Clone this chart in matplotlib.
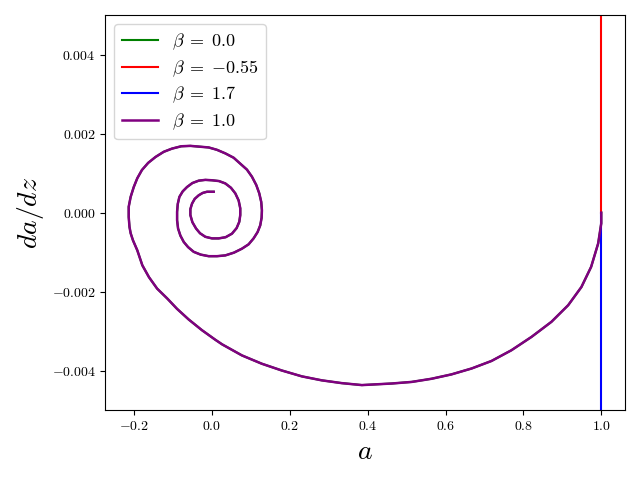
import matplotlib
matplotlib.use("Agg")
import matplotlib.pyplot as plt

plt.rcParams['mathtext.fontset'] = 'cm'
plt.rcParams['font.family'] = 'serif'
plt.rcParams['font.serif'] = ['cmr10', 'DejaVu Serif']
plt.rcParams['axes.formatter.use_mathtext'] = True

# trajectory, from a=1 along the big arc into the spiral centre
a_vals = [1.0, 1.0, 0.992, 0.974, 0.949, 0.915, 0.872, 0.821, 0.769, 0.718,
          0.667, 0.615, 0.564, 0.513, 0.462, 0.385, 0.333, 0.282, 0.231, 0.179,
          0.128, 0.077, 0.026, 0.008, -0.026, -0.060, -0.090, -0.115, -0.141, -0.162,
          -0.179, -0.192, -0.203, -0.209, -0.212, -0.214, -0.214, -0.209, -0.201, -0.192,
          -0.180, -0.164, -0.145, -0.124, -0.103, -0.079,
          # outer loop
          -0.0556, -0.0085, 0.0128, 0.0342, 0.0556, 0.0726, 0.0897, 0.1026, 0.1137, 0.1214,
          0.1265, 0.1282, 0.1274, 0.1239, 0.1171, 0.1068, 0.0940, 0.0769, 0.0564, 0.0342,
          0.0128, -0.0085, -0.0291, -0.0470, -0.0615, -0.0726, -0.0812, -0.0872, -0.0897, -0.0897,
          -0.0880, -0.0838, -0.0752, -0.0641, -0.0504, -0.0342, -0.0171, 0.0, 0.0179, 0.0342,
          # inner loop
          0.0487, 0.0598, 0.0684, 0.0726, 0.0726, 0.0701, 0.0632, 0.0513, 0.0350, 0.0171,
          0.0, -0.0171, -0.0308, -0.0410, -0.0504, -0.0556, -0.0556, -0.0513, -0.0444, -0.0342,
          -0.0239, -0.0128, 0.0043]
dadz_vals = [0.0, -0.00027, -0.00078, -0.00137, -0.00188, -0.00234, -0.00276, -0.00314, -0.00348, -0.00375,
             -0.00394, -0.00409, -0.00420, -0.00428, -0.00432, -0.00436, -0.00431, -0.00424, -0.00414, -0.00399,
             -0.00382, -0.00361, -0.00333, -0.00321, -0.00297, -0.00270, -0.00243, -0.00217, -0.00192, -0.00163,
             -0.00133, -0.00095, -0.00070, -0.00052, -0.00036, -0.00011, 0.00015, 0.00040, 0.00065, 0.00087,
             0.00108, 0.00126, 0.00141, 0.00154, 0.00162, 0.00168,
             # outer loop
             0.00169, 0.00165, 0.00159, 0.00150, 0.00139, 0.00124, 0.00109, 0.00091, 0.00070, 0.00049,
             0.00027, 0.00006, -0.00013, -0.00032, -0.00049, -0.00065, -0.00080, -0.00091, -0.00101, -0.00108,
             -0.00110, -0.00110, -0.00106, -0.00099, -0.00087, -0.00074, -0.00058, -0.00040, -0.00019, 0.00002,
             0.00022, 0.00040, 0.00054, 0.00065, 0.00075, 0.00081, 0.00083, 0.00082, 0.00080, 0.00074,
             # inner loop
             0.00063, 0.00049, 0.00031, 0.00011, -0.00006, -0.00023, -0.00039, -0.00053, -0.00062, -0.00065,
             -0.00065, -0.00061, -0.00052, -0.00040, -0.00024, -0.00006, 0.00009, 0.00023, 0.00035, 0.00044,
             0.00050, 0.00053, 0.00053]

# runaway solutions: vertical at a = 1
a_red = [1.0, 1.0]
dadz_red = [0.0, 0.02]
a_blue = [1.0, 1.0]
dadz_blue = [0.0, -0.02]

fig, ax = plt.subplots(figsize=(6.4, 4.8))
ax.plot(a_vals, dadz_vals, color='green', lw=1.5, label=r'$\beta\;=\;0.0$')
ax.plot(a_red, dadz_red, color='red', lw=1.5, label=r'$\beta\;=\;{-0.55}$')
ax.plot(a_blue, dadz_blue, color='blue', lw=1.5, label=r'$\beta\;=\;1.7$')
ax.plot(a_vals, dadz_vals, color='purple', lw=1.8, label=r'$\beta\;=\;1.0$')

ax.set_ylim(-0.005, 0.005)
ax.set_xlim(-0.274, 1.061)
ax.set_xlabel(r'$a$', fontsize=20)
ax.set_ylabel(r'$da/dz$', fontsize=20)
ax.legend(loc='upper left', fontsize=13, labelspacing=0.35)

plt.tight_layout()
plt.savefig('out.png', dpi=100)
